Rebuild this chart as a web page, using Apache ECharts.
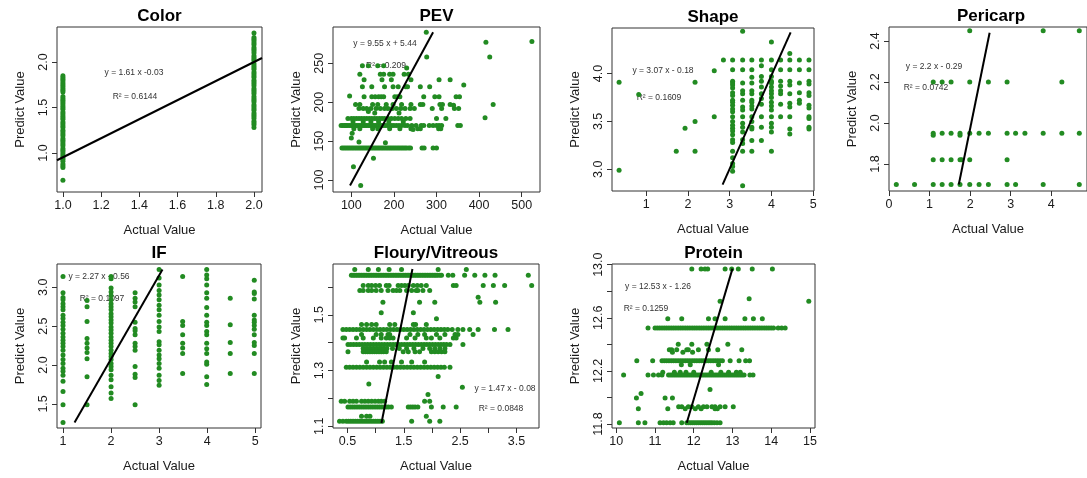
<!DOCTYPE html>
<html>
<head>
<meta charset="utf-8">
<title>Actual vs Predict</title>
<script src="https://cdn.jsdelivr.net/npm/echarts@6/dist/echarts.min.js"></script>
<style>
  html, body { margin: 0; padding: 0; background: #fff; }
  #chart { width: 1087px; height: 478px; }
</style>
</head>
<body>
<div id="chart"></div>
<script>
// ---------- data ----------
const panelTitles = ["Color", "PEV", "Shape", "Pericarp", "IF", "Floury/Vitreous", "Protein"];
const equations = ["y = 1.61 x -0.03", "y = 9.55 x + 5.44", "y = 3.07 x - 0.18", "y = 2.2 x - 0.29",
                   "y = 2.27 x - 0.56", "y = 1.47 x - 0.08", "y = 12.53 x - 1.26"];
const rSquared = ["R\u00b2 = 0.6144", "R\u00b2 = 0.209", "R\u00b2 = 0.1609", "R\u00b2 = 0.0742",
                  "R\u00b2 = 0.1097", "R\u00b2 = 0.0848", "R\u00b2 = 0.1259"];

// columns: [x, [y...]]
const colorCols = [
  [1, [0.70, 0.84, 0.86, 0.88, 0.91, 0.93, 0.95, 0.97, 0.99, 1.01, 1.03, 1.05, 1.08, 1.10, 1.12, 1.14, 1.16,
       1.19, 1.21, 1.23, 1.25, 1.28, 1.30, 1.32, 1.34, 1.37, 1.39, 1.41, 1.43, 1.45, 1.48, 1.50, 1.52, 1.54,
       1.56, 1.58, 1.60, 1.62, 1.67, 1.69, 1.71, 1.73, 1.75, 1.77, 1.79, 1.81, 1.83, 1.85]],
  [2, [1.28, 1.31, 1.33, 1.35, 1.38, 1.40, 1.42, 1.44, 1.47, 1.49, 1.51, 1.53, 1.56, 1.58, 1.60, 1.62, 1.65,
       1.67, 1.69, 1.71, 1.74, 1.76, 1.78, 1.80, 1.83, 1.85, 1.87, 1.89, 1.92, 1.94, 1.96, 1.98, 2.01, 2.03,
       2.05, 2.07, 2.10, 2.12, 2.14, 2.16, 2.19, 2.21, 2.23, 2.25, 2.27, 2.32]]
];
const colorFit = [[0.969, 0.92], [2.042, 2.044]];

// rows: [y, [x...]]
const pevRows = [
  [141, [78, 82, 86, 90, 94, 98, 102, 106, 110, 114, 118, 122, 126, 130, 134, 138, 142, 146, 150, 154, 158, 162,
         166, 170, 174, 178, 182, 186, 190, 194, 198, 202, 206, 210, 214, 218, 222, 226, 230, 235, 239, 266, 271, 292, 300]],
  [170, [76, 80, 84, 88, 92, 96, 100, 104, 108, 112, 116, 120, 124, 128, 132, 136, 140, 144, 148, 152, 156, 160,
         165, 170, 175, 180, 185, 190, 195, 200, 206, 212, 218, 226, 232, 242, 252, 264, 270, 283, 292, 300, 306, 312, 350, 356]],
  [179, [92, 100, 106, 112, 118, 124, 130, 136, 142, 148, 154, 160, 166, 172, 178, 186, 194, 202, 210, 218, 228, 238, 300, 322]],
  [175, [104, 128, 146, 164, 188, 222]],
  [166, [106, 120, 150, 162, 190, 214, 240, 256, 262, 305, 310]],
  [192, [118, 128, 136, 146, 158, 168, 178, 186, 196, 206, 216, 226, 238, 248, 290, 312, 342, 352]],
  [197, [110, 120, 150, 162, 182, 198, 218, 240, 262, 268, 308, 314, 332]],
  [207, [130, 148, 156, 164, 170, 176, 202, 208, 214, 270, 296, 306, 346]],
  [220, [126, 148, 178, 198, 210, 228, 232, 262, 284]],
  [229, [130, 172, 194, 240, 306, 332]],
  [236, [120, 168, 176, 190, 198, 224, 234]],
  [247, [126, 140, 162, 176]]
];
const pevExtra = [[230, 244], [276, 290], [277, 258], [416, 277], [425, 258], [524, 278], [433, 197], [414, 180],
  [364, 222], [354, 207], [340, 196], [105, 117], [122, 93], [152, 128], [118, 149], [102, 160], [100, 154],
  [86, 170], [180, 148], [245, 165], [212, 186], [140, 188], [155, 186], [96, 208]];
const pevFit = [[97, 93], [292, 290]];

const shapeCols = [
  [3.07, [4.14, 4.04, 3.92, 3.90, 3.88, 3.85, 3.80, 3.77, 3.72, 3.70, 3.67, 3.63, 3.60, 3.55, 3.50, 3.46, 3.43,
          3.40, 3.36, 3.31, 3.28, 3.19, 3.12, 3.06, 3.03, 2.98]],
  [3.31, [4.44, 4.14, 4.04, 3.90, 3.82, 3.79, 3.72, 3.65, 3.62, 3.55, 3.48, 3.44, 3.39, 3.31, 3.27, 3.19, 2.83]],
  [3.53, [4.14, 4.04, 3.96, 3.90, 3.82, 3.79, 3.72, 3.70, 3.66, 3.63, 3.55, 3.50, 3.44, 3.42, 3.30, 3.19]],
  [3.76, [4.14, 4.08, 3.97, 3.92, 3.86, 3.79, 3.74, 3.68, 3.55, 3.44, 3.30]],
  [4.00, [4.33, 4.14, 4.04, 3.97, 3.92, 3.90, 3.86, 3.82, 3.79, 3.75, 3.70, 3.66, 3.62, 3.55, 3.48, 3.44, 3.39, 3.19]],
  [4.22, [4.14, 4.04, 3.92, 3.87, 3.82, 3.79, 3.68, 3.55]],
  [4.44, [4.21, 4.14, 4.04, 3.92, 3.88, 3.79, 3.69, 3.65, 3.55, 3.42, 3.37]],
  [4.67, [4.14, 4.04, 3.90, 3.80, 3.72, 3.69]],
  [4.90, [4.14, 4.04, 3.92, 3.89, 3.80, 3.77, 3.67, 3.64, 3.55, 3.53, 3.44, 3.42]]
];
const shapeExtra = [[0.35, 3.91], [0.35, 2.99], [0.82, 3.78], [1.72, 3.19], [1.93, 3.43], [2.17, 3.91],
  [2.17, 3.50], [2.17, 3.19], [2.63, 3.55], [2.63, 4.03], [2.85, 4.14]];
const shapeFit = [[2.83, 2.84], [4.46, 4.43]];

const pericarpRows = [
  [1.70, [0.18, 0.63, 1.09, 1.31, 1.53, 1.75, 1.99, 2.22, 2.45, 2.91, 3.12, 3.80, 4.69]],
  [1.82, [1.09, 1.31, 1.53, 1.75, 1.79, 1.99, 2.91]],
  [1.95, [1.09, 1.31, 1.53, 1.75, 1.99, 2.22, 2.45, 2.91, 3.12, 3.35, 3.80, 4.26, 4.69]],
  [1.94, [1.09, 1.75]],
  [2.20, [1.09, 1.31, 1.53, 1.99, 2.45, 2.91, 4.26]],
  [2.45, [1.99, 3.80, 4.69]]
];
const pericarpFit = [[1.72, 1.70], [2.48, 2.44]];

const ifCols = [
  [1.0, [3.14, 2.93, 2.87, 2.84, 2.79, 2.75, 2.71, 2.64, 2.60, 2.55, 2.51, 2.46, 2.41, 2.36, 2.32, 2.28, 2.24,
         2.19, 2.13, 2.07, 2.02, 1.96, 1.92, 1.87, 1.79, 1.66, 1.49, 1.26]],
  [1.5, [2.83, 2.75, 2.56, 2.34, 2.28, 2.22, 2.16, 2.08, 1.85, 1.49]],
  [2.0, [3.14, 3.11, 2.99, 2.94, 2.89, 2.84, 2.79, 2.75, 2.71, 2.66, 2.62, 2.58, 2.54, 2.49, 2.45, 2.41, 2.36,
         2.32, 2.28, 2.24, 2.19, 2.15, 2.11, 2.07, 2.02, 1.98, 1.94, 1.87, 1.81, 1.72, 1.64, 1.57]],
  [2.5, [2.93, 2.86, 2.81, 2.75, 2.55, 2.47, 2.44, 2.39, 2.28, 2.24, 2.19, 1.98, 1.88, 1.84, 1.49]],
  [3.0, [3.23, 3.12, 3.03, 2.96, 2.90, 2.84, 2.77, 2.71, 2.64, 2.56, 2.49, 2.43, 2.30, 2.26, 2.19, 2.13, 2.08,
         2.02, 1.96, 1.87, 1.80, 1.74]],
  [3.49, [3.14, 2.56, 2.51, 2.39, 2.28, 2.22, 2.15, 1.89]],
  [3.99, [3.23, 3.16, 3.11, 3.03, 2.93, 2.86, 2.74, 2.64, 2.55, 2.51, 2.43, 2.39, 2.28, 2.21, 2.15, 2.04, 2.01, 1.85, 1.75]],
  [4.48, [2.86, 2.52, 2.29, 2.15, 1.89]],
  [4.98, [3.09, 2.94, 2.92, 2.85, 2.64, 2.58, 2.55, 2.51, 2.46, 2.39, 2.29, 2.25, 2.15, 1.89]]
];
const ifFit = [[1.24, 1.26], [3.07, 3.23]];

const flouryRows = [
  [1.662, [0.63, 0.87, 1.05, 1.24, 1.46, 2.11, 2.61]],
  [1.642, [0.57, 0.60, 0.63, 0.66, 0.69, 0.72, 0.75, 0.78, 0.81, 0.84, 0.87, 0.90, 0.93, 0.96, 0.99, 1.02, 1.05,
           1.08, 1.11, 1.14, 1.17, 1.20, 1.23, 1.26, 1.29, 1.32, 1.35, 1.38, 1.41, 1.44, 1.47, 1.50, 1.53, 1.56,
           1.59, 1.62, 1.65, 1.68, 1.71, 1.74, 1.77, 1.80, 1.83, 1.86, 1.89, 1.92, 1.95, 1.98, 2.01, 2.04, 2.07,
           2.10, 2.14, 2.17, 2.29, 2.37, 2.58, 2.76, 2.94, 3.12, 3.71]],
  [1.605, [0.78, 0.87, 0.93, 1.00, 1.07, 1.19, 1.24, 1.40, 1.46, 1.52, 1.58, 1.67, 1.74, 1.81, 1.90, 2.38, 2.43,
           2.91, 3.09, 3.29, 3.77]],
  [1.587, [0.72, 0.78, 0.87, 0.93, 1.01, 1.10, 1.22, 1.31, 1.37, 1.43, 1.55, 1.64, 1.72, 1.75, 1.84, 1.96]],
  [1.563, [2.82]],
  [1.545, [1.13, 1.78, 2.05, 2.85, 3.13]],
  [1.507, [1.10, 1.67]],
  [1.486, [2.08]],
  [1.465, [0.75, 0.84, 0.93, 1.01, 1.25, 1.34, 1.67, 1.71, 1.90]],
  [1.447, [0.42, 0.48, 0.54, 0.60, 0.66, 0.72, 0.78, 0.84, 0.90, 0.96, 1.02, 1.08, 1.14, 1.20, 1.26, 1.32, 1.38,
           1.44, 1.50, 1.56, 1.62, 1.68, 1.74, 1.80, 1.86, 1.92, 1.98, 2.04, 2.10, 2.16, 2.22, 2.28, 2.36, 2.46,
           2.55, 2.67, 2.82, 3.11, 3.35]],
  [1.429, [0.75, 1.01, 1.10, 1.22, 1.25, 1.61, 1.75, 1.87, 2.08, 2.23, 2.41, 2.46, 2.73]],
  [1.417, [0.42, 0.45, 0.66, 0.78, 0.96, 1.10, 1.19, 1.25, 1.31, 1.55, 1.70, 1.90, 1.99, 2.14, 2.38, 2.43]],
  [1.393, [0.51, 0.56, 0.61, 0.66, 0.71, 0.76, 0.81, 0.86, 0.91, 0.96, 1.01, 1.06, 1.11, 1.16, 1.21, 1.26, 1.31,
           1.36, 1.41, 1.46, 1.51, 1.56, 1.61, 1.66, 1.71, 1.76, 1.81, 1.86, 1.91, 1.96, 2.01, 2.06, 2.11, 2.16,
           2.21, 2.26, 2.32, 2.55]],
  [1.379, [0.78, 0.84, 0.90, 0.96, 1.02, 1.08, 1.14, 1.20, 1.30, 1.42, 1.55, 1.68, 1.84, 1.96, 2.05, 2.14, 2.23]],
  [1.367, [0.51, 0.78, 0.82, 0.86, 0.90, 0.94, 0.98, 1.02, 1.06, 1.10, 1.14, 1.19, 1.49, 1.58, 1.70, 1.78, 1.99,
           2.05, 2.11, 2.17, 2.23]],
  [1.331, [0.84, 1.07, 1.16, 1.28, 1.46, 1.64, 1.87]],
  [1.312, [0.48, 0.54, 0.60, 0.66, 0.72, 0.78, 0.84, 0.90, 0.96, 1.02, 1.08, 1.14, 1.20, 1.26, 1.32, 1.38, 1.44,
           1.50, 1.56, 1.62, 1.68, 1.74, 1.80, 1.86, 1.92, 1.98, 2.04, 2.10, 2.16, 2.22, 2.32]],
  [1.279, [2.11]],
  [1.252, [0.88]],
  [1.240, [2.54]],
  [1.214, [1.93]],
  [1.190, [0.39, 0.45, 0.54, 0.60, 0.66, 0.75, 0.81, 0.87, 0.93, 0.99, 1.05, 1.10, 1.16, 1.87, 1.96]],
  [1.169, [0.51, 0.55, 0.59, 0.63, 0.67, 0.71, 0.75, 0.79, 0.83, 0.87, 0.91, 0.95, 0.99, 1.03, 1.07, 1.11, 1.15,
           1.19, 1.23, 1.28, 1.58, 1.62, 1.66, 1.70, 1.75, 1.99, 2.20, 2.43]],
  [1.136, [0.75, 0.84, 0.90, 1.90]],
  [1.118, [0.36, 0.42, 0.48, 0.52, 0.56, 0.60, 0.64, 0.68, 0.72, 0.76, 0.80, 0.84, 0.88, 0.92, 0.96, 1.00, 1.04,
           1.08, 1.12, 1.64, 1.96, 2.14]]
];
const flouryFit = [[1.104, 1.112], [1.654, 1.664]];

const proteinRows = [
  [12.967, [11.95, 12.19, 12.29, 12.36, 12.81, 12.98, 13.15, 13.51, 14.03]],
  [12.744, [13.43]],
  [12.724, [12.68, 14.97]],
  [12.593, [11.33, 11.69, 12.38, 12.55, 12.81, 13.32, 13.54, 13.77]],
  [12.523, [10.82, 11.00, 11.06, 11.12, 11.18, 11.24, 11.30, 11.36, 11.42, 11.48, 11.54, 11.60, 11.66, 11.72,
            11.78, 11.84, 11.90, 11.96, 12.02, 12.08, 12.14, 12.20, 12.26, 12.32, 12.38, 12.44, 12.50, 12.56,
            12.62, 12.68, 12.74, 12.80, 12.86, 12.92, 12.98, 13.04, 13.10, 13.16, 13.22, 13.28, 13.34, 13.40,
            13.46, 13.52, 13.58, 13.64, 13.70, 13.76, 13.82, 13.88, 13.94, 14.00, 14.06, 14.18, 14.27, 14.36]],
  [12.40, [11.60, 11.95, 12.34, 12.88]],
  [12.36, [11.37, 11.43, 11.56, 11.82, 11.86, 12.12, 12.38, 12.62, 13.24]],
  [12.34, [11.45, 11.72, 11.97]],
  [12.277, [10.53, 10.94, 11.18, 11.24, 11.30, 11.36, 11.42, 11.48, 11.54, 11.60, 11.66, 11.72, 11.78, 11.84,
            11.90, 11.96, 12.02, 12.08, 12.14, 12.20, 12.26, 12.32, 12.38, 12.44, 12.50, 12.56, 12.62, 12.68,
            12.74, 12.94, 13.17, 13.34, 13.44]],
  [12.247, [11.68, 11.91, 12.64]],
  [12.19, [11.20, 11.50, 11.65, 11.80, 12.00, 12.45, 12.70, 12.90, 13.10, 13.20]],
  [12.17, [10.19, 10.82, 10.96, 11.09, 11.18, 11.35, 11.40, 11.45, 11.50, 11.55, 11.60, 11.65, 11.70, 11.75,
           11.80, 11.85, 11.90, 11.95, 12.00, 12.05, 12.10, 12.15, 12.20, 12.25, 12.30, 12.35, 12.40, 12.45,
           12.50, 12.55, 12.60, 12.65, 12.70, 12.75, 12.80, 12.85, 12.90, 12.95, 13.00, 13.05, 13.10, 13.15,
           13.20, 13.25, 13.30, 13.45, 13.53]],
  [12.06, [12.42]],
  [12.03, [10.64]],
  [11.996, [10.52, 11.26, 11.45]],
  [11.93, [11.61, 11.69, 11.86, 11.95, 12.12, 12.25, 12.34, 12.47, 12.55, 12.68, 12.81, 13.02]],
  [11.915, [10.57, 11.33, 11.78, 12.04, 12.19, 12.55, 12.61]],
  [11.81, [10.08, 10.57, 10.74, 11.13, 11.22, 11.30, 11.39, 11.47, 11.69, 11.82, 11.87, 11.92, 11.97, 12.02,
           12.07, 12.12, 12.17, 12.22, 12.27, 12.32, 12.37, 12.42, 12.47, 12.53, 12.60, 12.68]]
];
const proteinFit = [[11.82, 11.81], [13.0, 12.97]];

// tick values and labelled ticks per panel
const colorTicksX = [1.0, 1.2, 1.4, 1.6, 1.8, 2.0], colorTicksY = [1.0, 1.5, 2.0];
const pevTicksX = [100, 200, 300, 400, 500], pevTicksY = [100, 150, 200, 250];
const shapeTicksX = [1, 2, 3, 4, 5], shapeTicksY = [3.0, 3.5, 4.0];
const pericarpTicksX = [0, 1, 2, 3, 4], pericarpTicksY = [1.8, 2.0, 2.2, 2.4];
const ifTicksX = [1, 2, 3, 4, 5], ifTicksY = [1.5, 2.0, 2.5, 3.0];
const flouryTicksX = [0.5, 1.0, 1.5, 2.0, 2.5, 3.0, 3.5], flouryLabelsX = [0.5, 1.5, 2.5, 3.5];
const flouryTicksY = [1.1, 1.2, 1.3, 1.4, 1.5, 1.6], flouryLabelsY = [1.1, 1.3, 1.5];
const proteinTicksX = [10, 11, 12, 13, 14, 15];
const proteinTicksY = [11.8, 12.0, 12.2, 12.4, 12.6, 12.8, 13.0], proteinLabelsY = [11.8, 12.2, 12.6, 13.0];

// ---------- helpers ----------
const fromRows = rows => rows.flatMap(([y, xs]) => xs.map(x => [x, y]));
const fromCols = cols => cols.flatMap(([x, ys]) => ys.map(y => [x, y]));

const panels = [
  { pts: fromCols(colorCols), fit: colorFit, tx: colorTicksX, lx: colorTicksX, ty: colorTicksY, ly: colorTicksY },
  { pts: fromRows(pevRows).concat(pevExtra), fit: pevFit, tx: pevTicksX, lx: pevTicksX, ty: pevTicksY, ly: pevTicksY },
  { pts: fromCols(shapeCols).concat(shapeExtra), fit: shapeFit, tx: shapeTicksX, lx: shapeTicksX, ty: shapeTicksY, ly: shapeTicksY },
  { pts: fromRows(pericarpRows), fit: pericarpFit, tx: pericarpTicksX, lx: pericarpTicksX, ty: pericarpTicksY, ly: pericarpTicksY },
  { pts: fromCols(ifCols), fit: ifFit, tx: ifTicksX, lx: ifTicksX, ty: ifTicksY, ly: ifTicksY },
  { pts: fromRows(flouryRows), fit: flouryFit, tx: flouryTicksX, lx: flouryLabelsX, ty: flouryTicksY, ly: flouryLabelsY },
  { pts: fromRows(proteinRows), fit: proteinFit, tx: proteinTicksX, lx: proteinTicksX, ty: proteinTicksY, ly: proteinLabelsY }
];

// ---------- layout (pixels, axis ranges, label decimals) ----------
const layout = [
  { left: 57,  top: 27,  width: 205, height: 165, x: [0.969, 2.042], y: [0.571, 2.385], dx: 1, dy: 1, eq: [134, 73],  r2: [135, 97] },
  { left: 333, top: 27,  width: 207, height: 165, x: [57, 543],      y: [84.6, 296.7],  dx: 0, dy: 0, eq: [385, 44],  r2: [386, 66] },
  { left: 612, top: 28,  width: 202, height: 163, x: [0.18, 5.02],   y: [2.774, 4.475], dx: 0, dy: 1, eq: [663, 71],  r2: [659, 98] },
  { left: 889, top: 27,  width: 204, height: 164, x: [0, 4.88],      y: [1.668, 2.468], dx: 0, dy: 1, eq: [934, 67],  r2: [926, 88] },
  { left: 57,  top: 264, width: 204, height: 164, x: [0.875, 5.12],  y: [1.19, 3.30],   dx: 0, dy: 1, eq: [99, 277],  r2: [102, 299] },
  { left: 333, top: 264, width: 206, height: 164, x: [0.244, 3.90],  y: [1.094, 1.682], dx: 1, dy: 1, eq: [505, 389], r2: [501, 409] },
  { left: 612, top: 264, width: 203, height: 164, x: [9.89, 15.13],  y: [11.77, 13.005], dx: 0, dy: 1, eq: [658, 287], r2: [646, 309] }
];

const FONT = '"Liberation Sans", Arial, sans-serif';
const GREEN = '#228B22';
const TEXT = '#1a1a1a';

const grid = [], xAxis = [], yAxis = [], series = [], graphic = [];

panels.forEach((p, i) => {
  const L = layout[i];
  grid.push({ left: L.left, top: L.top, width: L.width, height: L.height,
              show: true, borderColor: '#333', borderWidth: 1 });
  const axisCommon = {
    type: 'value', nameLocation: 'middle',
    nameTextStyle: { fontFamily: FONT, fontSize: 13, color: TEXT },
    axisLine: { show: false }, splitLine: { show: false },
    axisTick: { show: true, length: 5, lineStyle: { color: '#333', width: 1 } }
  };
  xAxis.push(Object.assign({}, axisCommon, {
    gridIndex: i, min: L.x[0], max: L.x[1], name: 'Actual Value', nameGap: 32,
    axisTick: Object.assign({}, axisCommon.axisTick, { customValues: p.tx }),
    axisLabel: { customValues: p.lx, margin: 7, fontFamily: FONT, fontSize: 12.5, color: TEXT,
                 formatter: v => Number(v).toFixed(L.dx) }
  }));
  yAxis.push(Object.assign({}, axisCommon, {
    gridIndex: i, min: L.y[0], max: L.y[1], name: 'Predict Value', nameGap: 30, nameRotate: 90,
    axisTick: Object.assign({}, axisCommon.axisTick, { customValues: p.ty }),
    axisLabel: { customValues: p.ly, margin: 7, rotate: 90, fontFamily: FONT, fontSize: 12.5, color: TEXT,
                 formatter: v => Number(v).toFixed(L.dy) }
  }));
  series.push({
    type: 'scatter', xAxisIndex: i, yAxisIndex: i, data: p.pts,
    symbol: 'circle', symbolSize: 5, itemStyle: { color: GREEN, opacity: 1 }, silent: true
  });
  series.push({
    type: 'line', xAxisIndex: i, yAxisIndex: i, data: p.fit, symbol: 'none', z: 5,
    lineStyle: { color: '#000', width: 2 }, silent: true
  });
  graphic.push({
    type: 'text', x: L.left + L.width / 2, y: L.top - 11,
    style: { text: panelTitles[i], font: 'bold 17px ' + FONT, fill: '#000',
             textAlign: 'center', textVerticalAlign: 'middle' }
  });
  graphic.push({
    type: 'text', x: L.eq[0], y: L.eq[1],
    style: { text: equations[i], font: '8.5px ' + FONT, fill: '#333', textAlign: 'center', textVerticalAlign: 'middle' }
  });
  graphic.push({
    type: 'text', x: L.r2[0], y: L.r2[1],
    style: { text: rSquared[i], font: '8.5px ' + FONT, fill: '#333', textAlign: 'center', textVerticalAlign: 'middle' }
  });
});

const chart = echarts.init(document.getElementById('chart'));
chart.setOption({
  animation: false,
  backgroundColor: '#fff',
  grid: grid,
  xAxis: xAxis,
  yAxis: yAxis,
  series: series,
  graphic: graphic
});
</script>
</body>
</html>
